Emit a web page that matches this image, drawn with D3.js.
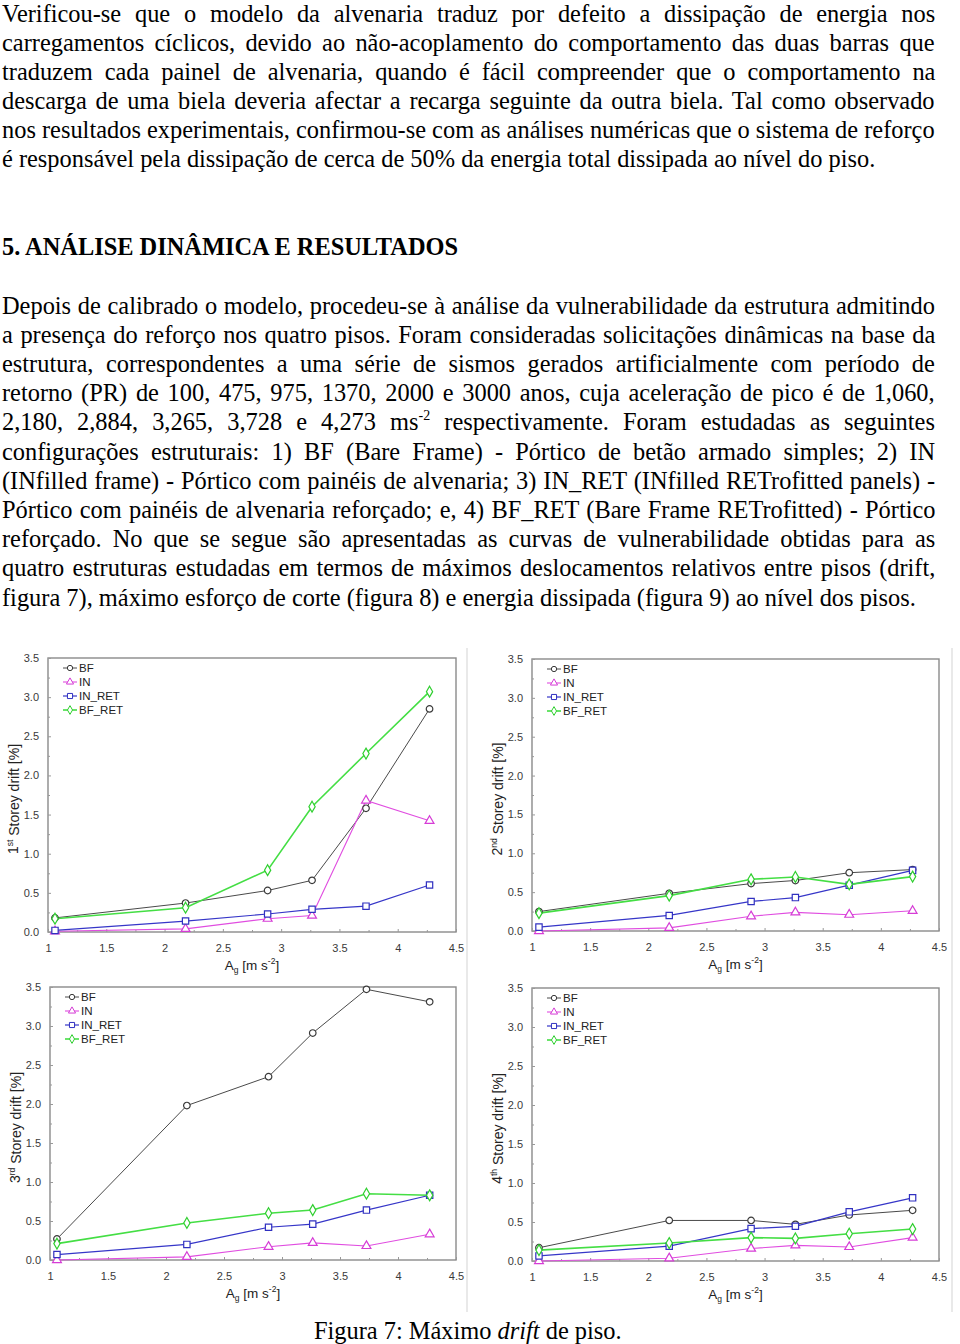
<!DOCTYPE html>
<html><head><meta charset="utf-8">
<script src="https://cdn.jsdelivr.net/npm/d3@7"></script>
<style>
html,body{margin:0;padding:0;background:#fff;}
body{width:960px;height:1344px;position:relative;overflow:hidden;}
.ln{position:absolute;left:2px;font-family:"Liberation Serif","Times New Roman",serif;font-size:24.4px;line-height:29px;white-space:nowrap;color:#000;transform-origin:0 0;}
.ln sup{font-size:14px;line-height:0;vertical-align:10px;}
.hd{font-weight:bold;}
svg{position:absolute;left:0;top:0;}
</style></head>
<body>
<script>
// ---------------- DATA ----------------
const xAccel = [1.060, 2.180, 2.884, 3.265, 3.728, 4.273];
const seriesNames = ["BF", "IN", "IN_RET", "BF_RET"];
const xTicks = [1, 1.5, 2, 2.5, 3, 3.5, 4, 4.5];
const yTicks = [0, 0.5, 1, 1.5, 2, 2.5, 3, 3.5];
const storeyOrdinals = ["1", "2", "3", "4"];
const storeySuffixes = ["st", "nd", "rd", "th"];

// 1st storey drift [%]
const s1_BF     = [0.18, 0.37, 0.53, 0.66, 1.58, 2.85];
const s1_IN     = [0.01, 0.04, 0.17, 0.21, 1.68, 1.42];
const s1_IN_RET = [0.02, 0.14, 0.23, 0.29, 0.33, 0.60];
const s1_BF_RET = [0.17, 0.31, 0.79, 1.60, 2.28, 3.07];
// 2nd storey drift [%]
const s2_BF     = [0.25, 0.485, 0.61, 0.65, 0.75, 0.79];
const s2_IN     = [0.00, 0.04, 0.19, 0.24, 0.21, 0.26];
const s2_IN_RET = [0.05, 0.20, 0.38, 0.43, 0.59, 0.78];
const s2_BF_RET = [0.23, 0.455, 0.665, 0.695, 0.60, 0.70];
// 3rd storey drift [%]
const s3_BF     = [0.27, 1.98, 2.35, 2.91, 3.47, 3.31];
const s3_IN     = [0.00, 0.04, 0.17, 0.22, 0.18, 0.33];
const s3_IN_RET = [0.07, 0.20, 0.42, 0.46, 0.64, 0.83];
const s3_BF_RET = [0.21, 0.475, 0.60, 0.64, 0.85, 0.83];
// 4th storey drift [%]
const s4_BF     = [0.17, 0.52, 0.52, 0.47, 0.59, 0.65];
const s4_IN     = [0.00, 0.035, 0.16, 0.20, 0.18, 0.30];
const s4_IN_RET = [0.065, 0.19, 0.415, 0.445, 0.63, 0.81];
const s4_BF_RET = [0.14, 0.23, 0.30, 0.29, 0.35, 0.41];

// ---------------- TEXT ----------------
const para1 = [
 "Verificou-se que o modelo da alvenaria traduz por defeito a dissipação de energia nos",
 "carregamentos cíclicos, devido ao não-acoplamento do comportamento das duas barras que",
 "traduzem cada painel de alvenaria, quando é fácil compreender que o comportamento na",
 "descarga de uma biela deveria afectar a recarga seguinte da outra biela. Tal como observado",
 "nos resultados experimentais, confirmou-se com as análises numéricas que o sistema de reforço",
 "é responsável pela dissipação de cerca de 50% da energia total dissipada ao nível do piso."
];
const heading = "5. ANÁLISE DINÂMICA E RESULTADOS";
const para2 = [
 "Depois de calibrado o modelo, procedeu-se à análise da vulnerabilidade da estrutura admitindo",
 "a presença do reforço nos quatro pisos. Foram consideradas solicitações dinâmicas na base da",
 "estrutura, correspondentes a uma série de sismos gerados artificialmente com período de",
 "retorno (PR) de 100, 475, 975, 1370, 2000 e 3000 anos, cuja aceleração de pico é de 1,060,",
 "2,180, 2,884, 3,265, 3,728 e 4,273 ms<sup>-2</sup> respectivamente. Foram estudadas as seguintes",
 "configurações estruturais: 1) BF (Bare Frame) - Pórtico de betão armado simples; 2) IN",
 "(INfilled frame) - Pórtico com painéis de alvenaria; 3) IN_RET (INfilled RETrofitted panels) -",
 "Pórtico com painéis de alvenaria reforçado; e, 4) BF_RET (Bare Frame RETrofitted) - Pórtico",
 "reforçado. No que se segue são apresentadas as curvas de vulnerabilidade obtidas para as",
 "quatro estruturas estudadas em termos de máximos deslocamentos relativos entre pisos (drift,",
 "figura 7), máximo esforço de corte (figura 8) e energia dissipada (figura 9) ao nível dos pisos."
];

// ---------------- TEXT LAYOUT ----------------
const TEXT_W = 933, SX = 1;
function addLine(html, cy, justify, cls) {
  const d = d3.select("body").append("div").attr("class", "ln" + (cls ? " " + cls : ""))
    .style("top", (cy - 14.5) + "px").html(html);
  if (justify) {
    const target = TEXT_W / SX;
    const w = d.node().offsetWidth;
    const plain = d.node().textContent;
    const nSp = (plain.match(/ /g) || []).length;
    if (w < target && nSp > 0) d.style("word-spacing", ((target - w) / nSp) + "px");
    else if (w > target) d.style("letter-spacing", ((target - w) / plain.length) + "px");
  }
  if (SX !== 1) d.style("transform", `scaleX(${SX})`);
  return d;
}
para1.forEach((t, i) => addLine(t, 13 + i * 29, i < para1.length - 1));
addLine(heading, 246, false, "hd");
para2.forEach((t, i) => addLine(t, 305 + i * 29.2, i < para2.length - 1));

// caption
const cap = addLine("Figura 7: Máximo <i>drift</i> de piso.", 1330, false);
cap.style("left", (468 - cap.node().offsetWidth * SX / 2) + "px");

// ---------------- CHARTS ----------------
const svg = d3.select("body").append("svg").attr("width", 960).attr("height", 1344);

// faint image borders
[[467, 648, 1312], [952, 648, 1312]].forEach(([x, y1, y2]) =>
  svg.append("line").attr("x1", x).attr("x2", x).attr("y1", y1).attr("y2", y2)
    .attr("stroke", "#e2e2e2").attr("stroke-width", 1.5));

const panels = [
  {l: 48,  r: 456, t: 658, b: 932,  data: [s1_BF, s1_IN, s1_IN_RET, s1_BF_RET]},
  {l: 532, r: 939, t: 659, b: 931,  data: [s2_BF, s2_IN, s2_IN_RET, s2_BF_RET]},
  {l: 50,  r: 456, t: 987, b: 1260, data: [s3_BF, s3_IN, s3_IN_RET, s3_BF_RET]},
  {l: 532, r: 939, t: 988, b: 1261, data: [s4_BF, s4_IN, s4_IN_RET, s4_BF_RET]}
];
const styles = [
  {stroke: "#4a4a4a", mark: "#3a3a3a", sym: d3.symbolCircle,   size: 34, lw: 1.0},
  {stroke: "#e04de0", mark: "#d63cd6", sym: d3.symbolTriangle, size: 34, lw: 1.1},
  {stroke: "#3636c8", mark: "#3030c0", sym: d3.symbolSquare,   size: 40, lw: 1.2},
  {stroke: "#44de44", mark: "#2fcf2f", sym: d3.symbolDiamond,  size: 34, lw: 1.6}
];
const fmtX = d3.format("~g"), fmtY = d3.format(".1f");
const SANS = "'Liberation Sans', Arial, sans-serif";

panels.forEach((p, pi) => {
  const x = d3.scaleLinear().domain([1, 4.5]).range([p.l, p.r]);
  const y = d3.scaleLinear().domain([0, 3.5]).range([p.b, p.t]);
  const g = svg.append("g");

  // frame
  g.append("rect").attr("x", p.l).attr("y", p.t).attr("width", p.r - p.l).attr("height", p.b - p.t)
    .attr("fill", "none").attr("stroke", "#8a8a8a").attr("stroke-width", 1.4);

  // axes (inward ticks)
  const ya = g.append("g").attr("transform", `translate(${p.l},0)`)
    .call(d3.axisLeft(y).tickValues(yTicks).tickFormat(fmtY).tickSize(-3).tickPadding(9));
  const xa = g.append("g").attr("transform", `translate(0,${p.b})`)
    .call(d3.axisBottom(x).tickValues(xTicks).tickFormat(fmtX).tickSize(-3).tickPadding(12));
  const yMinor = yTicks.slice(0, -1).map(v => v + 0.25);
  g.append("g").attr("transform", `translate(${p.l},0)`)
    .call(d3.axisLeft(y).tickValues(yMinor).tickFormat("").tickSize(-2))
    .call(s => s.select(".domain").remove());
  const xMinor = xTicks.slice(0, -1).map(v => v + 0.25);
  g.append("g").attr("transform", `translate(0,${p.b})`)
    .call(d3.axisBottom(x).tickValues(xMinor).tickFormat("").tickSize(-2))
    .call(s => s.select(".domain").remove());
  [ya, xa].forEach(a => a.select(".domain").remove());
  g.selectAll(".tick line").attr("stroke", "#999");
  g.selectAll(".tick text").attr("font-family", SANS).attr("font-size", 11).attr("fill", "#3a3a3a");

  // series
  const line = d3.line().x((d, i) => x(xAccel[i])).y(d => y(d));
  p.data.forEach((vals, si) => {
    const st = styles[si];
    g.append("path").datum(vals).attr("d", line).attr("fill", "none")
      .attr("stroke", st.stroke).attr("stroke-width", st.lw);
  });
  p.data.forEach((vals, si) => {
    const st = styles[si];
    g.selectAll(null).data(vals).join("path")
      .attr("transform", (d, i) => `translate(${x(xAccel[i])},${y(d)})`)
      .attr("d", d3.symbol().type(st.sym).size(st.size))
      .attr("fill", "#fff").attr("stroke", st.mark).attr("stroke-width", 1.2);
  });

  // legend
  const lg = g.append("g").attr("transform", `translate(${p.l + 15},${p.t + 10})`);
  seriesNames.forEach((nm, si) => {
    const st = styles[si];
    const e = lg.append("g").attr("transform", `translate(0,${si * 14})`);
    e.append("line").attr("x1", 0).attr("x2", 14).attr("stroke", st.stroke).attr("stroke-width", st.lw);
    e.append("path").attr("transform", "translate(7,0)").attr("d", d3.symbol().type(st.sym).size(st.size * 0.65))
      .attr("fill", "#fff").attr("stroke", st.mark).attr("stroke-width", 1);
    e.append("text").attr("x", 16).attr("dy", "0.35em").attr("font-family", SANS)
      .attr("font-size", 11.5).attr("fill", "#222").text(nm);
  });

  // y title
  const cyT = (p.t + p.b) / 2 + 4, cxT = p.l - 35;
  const yt = g.append("text").attr("transform", `translate(${cxT},${cyT}) rotate(-90)`)
    .attr("text-anchor", "middle").attr("dy", "0.35em").attr("font-family", SANS)
    .attr("font-size", 14).attr("fill", "#222");
  yt.append("tspan").text(storeyOrdinals[pi]);
  yt.append("tspan").attr("font-size", 8.5).attr("dy", "-0.6em").text(storeySuffixes[pi]);
  yt.append("tspan").attr("dy", "0.45em").text(" Storey drift [%]");

  // x title
  const xt = g.append("text").attr("x", (p.l + p.r) / 2).attr("y", p.b + 38)
    .attr("text-anchor", "middle").attr("font-family", SANS).attr("font-size", 13.5).attr("fill", "#222");
  xt.append("tspan").text("A");
  xt.append("tspan").attr("font-size", 8.5).attr("dy", 3).text("g");
  xt.append("tspan").attr("dy", -3).text(" [m s");
  xt.append("tspan").attr("font-size", 8.5).attr("dy", -6).text("-2");
  xt.append("tspan").attr("dy", 6).text("]");
});
</script>
</body></html>
